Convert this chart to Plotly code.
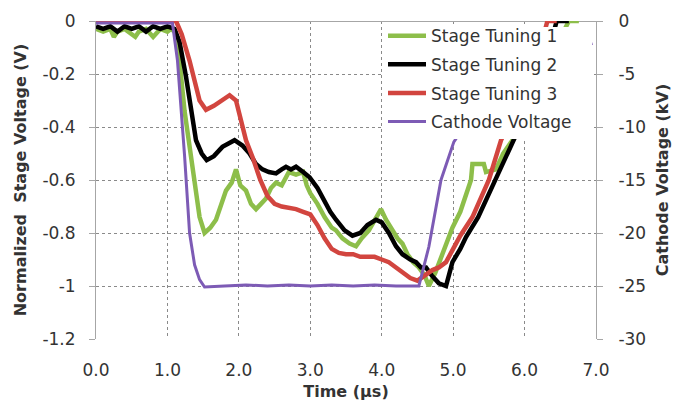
import plotly.graph_objects as go

# ---------------- data ----------------
st1_t = [0.0,0.1,0.2,0.25,0.3,0.4,0.5,0.55,0.6,0.7,0.8,0.9,1.0,1.05,1.1,1.14,1.24,1.31,1.38,1.45,
         1.52,1.6,1.68,1.75,1.82,1.9,1.96,2.02,2.1,2.17,2.24,2.31,2.38,2.45,2.52,2.6,2.7,2.8,2.9,2.95,
         3.0,3.1,3.2,3.3,3.36,3.45,3.55,3.64,3.72,3.82,3.9,3.99,4.06,4.15,4.22,4.29,4.36,4.44,4.52,4.6,
         4.66,4.75,4.85,4.99,5.1,5.18,5.25,5.27,5.43,5.46,5.6,5.7,5.83,6.0,6.2,6.4,6.62,6.76]
st1_v = [-0.03,-0.04,-0.03,-0.06,-0.04,-0.03,-0.05,-0.06,-0.04,-0.03,-0.06,-0.03,-0.04,-0.03,-0.04,-0.07,-0.34,-0.47,-0.62,-0.74,
         -0.80,-0.78,-0.75,-0.70,-0.64,-0.61,-0.56,-0.62,-0.64,-0.69,-0.71,-0.69,-0.67,-0.63,-0.61,-0.62,-0.57,-0.58,-0.57,-0.62,
         -0.65,-0.69,-0.74,-0.78,-0.79,-0.82,-0.84,-0.85,-0.82,-0.79,-0.75,-0.71,-0.75,-0.79,-0.82,-0.84,-0.88,-0.91,-0.93,-0.96,
         -1.0,-0.95,-0.88,-0.78,-0.72,-0.66,-0.6,-0.54,-0.54,-0.57,-0.56,-0.5,-0.45,-0.36,-0.24,-0.12,0.0,0.0]

st2_t = [0.0,0.1,0.2,0.3,0.4,0.5,0.6,0.7,0.8,0.9,1.0,1.1,1.17,1.26,1.4,1.48,1.55,1.65,1.77,1.86,
         1.94,2.05,2.15,2.24,2.33,2.42,2.52,2.6,2.66,2.73,2.8,2.9,2.99,3.1,3.2,3.28,3.36,3.48,3.59,3.7,
         3.8,3.92,4.0,4.1,4.2,4.29,4.4,4.48,4.55,4.62,4.7,4.8,4.9,4.99,5.1,5.18,5.35,5.5,5.65,5.85,
         6.0,6.2,6.35,6.45,6.62]
st2_v = [-0.02,-0.03,-0.02,-0.04,-0.02,-0.03,-0.02,-0.04,-0.02,-0.03,-0.02,-0.03,-0.08,-0.21,-0.45,-0.5,-0.525,-0.51,-0.475,-0.46,
         -0.45,-0.47,-0.5,-0.54,-0.56,-0.57,-0.575,-0.56,-0.55,-0.56,-0.55,-0.57,-0.59,-0.63,-0.68,-0.72,-0.75,-0.79,-0.81,-0.8,
         -0.77,-0.75,-0.76,-0.8,-0.85,-0.88,-0.9,-0.91,-0.93,-0.93,-0.96,-0.99,-1.0,-0.91,-0.86,-0.815,-0.74,-0.65,-0.56,-0.45,
         -0.36,-0.22,-0.1,0.0,0.0]

st3_t = [0.0,0.5,1.0,1.12,1.2,1.31,1.45,1.54,1.65,1.75,1.87,1.96,2.03,2.1,2.2,2.3,2.4,2.5,2.6,2.7,
         2.8,2.9,3.0,3.1,3.2,3.3,3.4,3.5,3.6,3.7,3.8,3.9,4.0,4.1,4.2,4.3,4.4,4.5,4.57,4.64,
         4.71,4.8,4.9,5.0,5.1,5.27,5.4,5.5,5.67,5.8,6.0,6.15,6.32,6.45]
st3_v = [0.0,0.0,0.0,0.0,-0.05,-0.15,-0.3,-0.335,-0.32,-0.3,-0.28,-0.3,-0.37,-0.45,-0.52,-0.6,-0.66,-0.69,-0.7,-0.705,
         -0.71,-0.72,-0.73,-0.77,-0.82,-0.86,-0.875,-0.88,-0.88,-0.89,-0.89,-0.89,-0.9,-0.91,-0.93,-0.95,-0.97,-0.98,-0.966,-0.95,
         -0.94,-0.93,-0.91,-0.86,-0.81,-0.74,-0.66,-0.6,-0.45,-0.38,-0.27,-0.17,0.0,0.0]

cv_t = [0.0,0.5,1.0,1.07,1.14,1.24,1.31,1.38,1.45,1.52,1.8,2.1,2.4,2.7,3.0,3.3,3.6,3.9,4.2,4.52,
        4.66,4.83,5.01,5.3,5.7,6.2,6.6,6.95]
cv_kv = [-0.2,-0.2,-0.2,-0.2,-3.7,-12.7,-20,-23,-24.4,-25.1,-25,-24.9,-25,-24.9,-25,-24.9,-25,-24.9,-25,-25,
         -21.3,-15,-11.4,-8.5,-6,-4,-2.9,-2.1]

series_names = ["Stage Tuning 1", "Stage Tuning 2", "Stage Tuning 3", "Cathode Voltage"]

x_ticks = [0, 1, 2, 3, 4, 5, 6, 7]
x_ticktext = ["0.0", "1.0", "2.0", "3.0", "4.0", "5.0", "6.0", "7.0"]
y_ticks = [0, -0.2, -0.4, -0.6, -0.8, -1.0, -1.2]
y_ticktext = ["0", "-0.2", "-0.4", "-0.6", "-0.8", "-1", "-1.2"]
y2_ticks = [0, -5, -10, -15, -20, -25, -30]
y2_ticktext = ["0", "-5", "-10", "-15", "-20", "-25", "-30"]

# ---------------- style ----------------
GREEN = "#8DBE4A"
BLACK = "#000000"
RED = "#D2453F"
PURPLE = "#7D5BB5"
FONT = "DejaVu Sans"
GRID = "#8a8a8a"
AXIS = "#a6a6a6"
TXT = "#333333"

fig = go.Figure()
for i, (t, v, c, w) in enumerate([(st1_t, st1_v, GREEN, 4.5), (st2_t, st2_v, BLACK, 4.5),
                                   (st3_t, st3_v, RED, 4.5)]):
    fig.add_trace(go.Scatter(x=t, y=v, mode="lines", name=series_names[i],
                             line=dict(color=c, width=w), legendgroup=str(i)))
fig.add_trace(go.Scatter(x=cv_t, y=cv_kv, mode="lines", name=series_names[3],
                         line=dict(color=PURPLE, width=3), yaxis="y2", legendgroup="3"))

# white panel behind the legend (covers lines and gridlines like the original)
fig.add_shape(type="rect", xref="paper", yref="paper", x0=0.5736, x1=0.992, y0=0.629, y1=0.981,
              fillcolor="white", line=dict(width=0), layer="above")

fig.update_layout(
    width=688, height=402,
    margin=dict(l=96, r=92, t=21, b=63),
    paper_bgcolor="white", plot_bgcolor="white",
    font=dict(family=FONT, size=17, color=TXT),
    showlegend=True,
    legend=dict(x=0.574, y=1.009, xanchor="left", yanchor="top",
                bgcolor="rgba(0,0,0,0)", borderwidth=0, font=dict(size=17, color=TXT),
                traceorder="grouped", tracegroupgap=3.5, itemwidth=38),
    xaxis=dict(range=[0, 7], tickvals=x_ticks, ticktext=x_ticktext, automargin=False,
               showgrid=True, gridcolor=GRID, gridwidth=1, griddash="3px,3px",
               zeroline=False, showline=False, ticks="", ticklabelstandoff=19,
               title=dict(text="<b>Time (\u03bcs)</b>", font=dict(size=16, color=TXT, family=FONT),
                          standoff=6),
               tickfont=dict(size=17, color=TXT)),
    yaxis=dict(range=[-1.2, 0], tickvals=y_ticks, ticktext=y_ticktext, automargin=False,
               showgrid=True, gridcolor=GRID, gridwidth=1, griddash="3px,3px",
               zeroline=True, zerolinecolor=AXIS, zerolinewidth=1,
               showline=True, linecolor=AXIS, linewidth=1,
               ticks="outside", ticklen=6, tickcolor=AXIS, ticklabelstandoff=10,
               title=dict(text="<b>Normalized  Stage Voltage (V)</b>", font=dict(size=16, color=TXT), standoff=11),
               tickfont=dict(size=17, color=TXT)),
    yaxis2=dict(range=[-30, 0], tickvals=y2_ticks, ticktext=y2_ticktext, overlaying="y", side="right",
                automargin=False,
                showgrid=False, zeroline=False, showline=True, linecolor=AXIS, linewidth=1,
                ticks="outside", ticklen=6, tickcolor=AXIS, ticklabelstandoff=12,
                title=dict(text="<b>Cathode Voltage (kV)</b>", font=dict(size=16, color=TXT), standoff=11),
                tickfont=dict(size=17, color=TXT)),
)

fig.write_html("out.html")
